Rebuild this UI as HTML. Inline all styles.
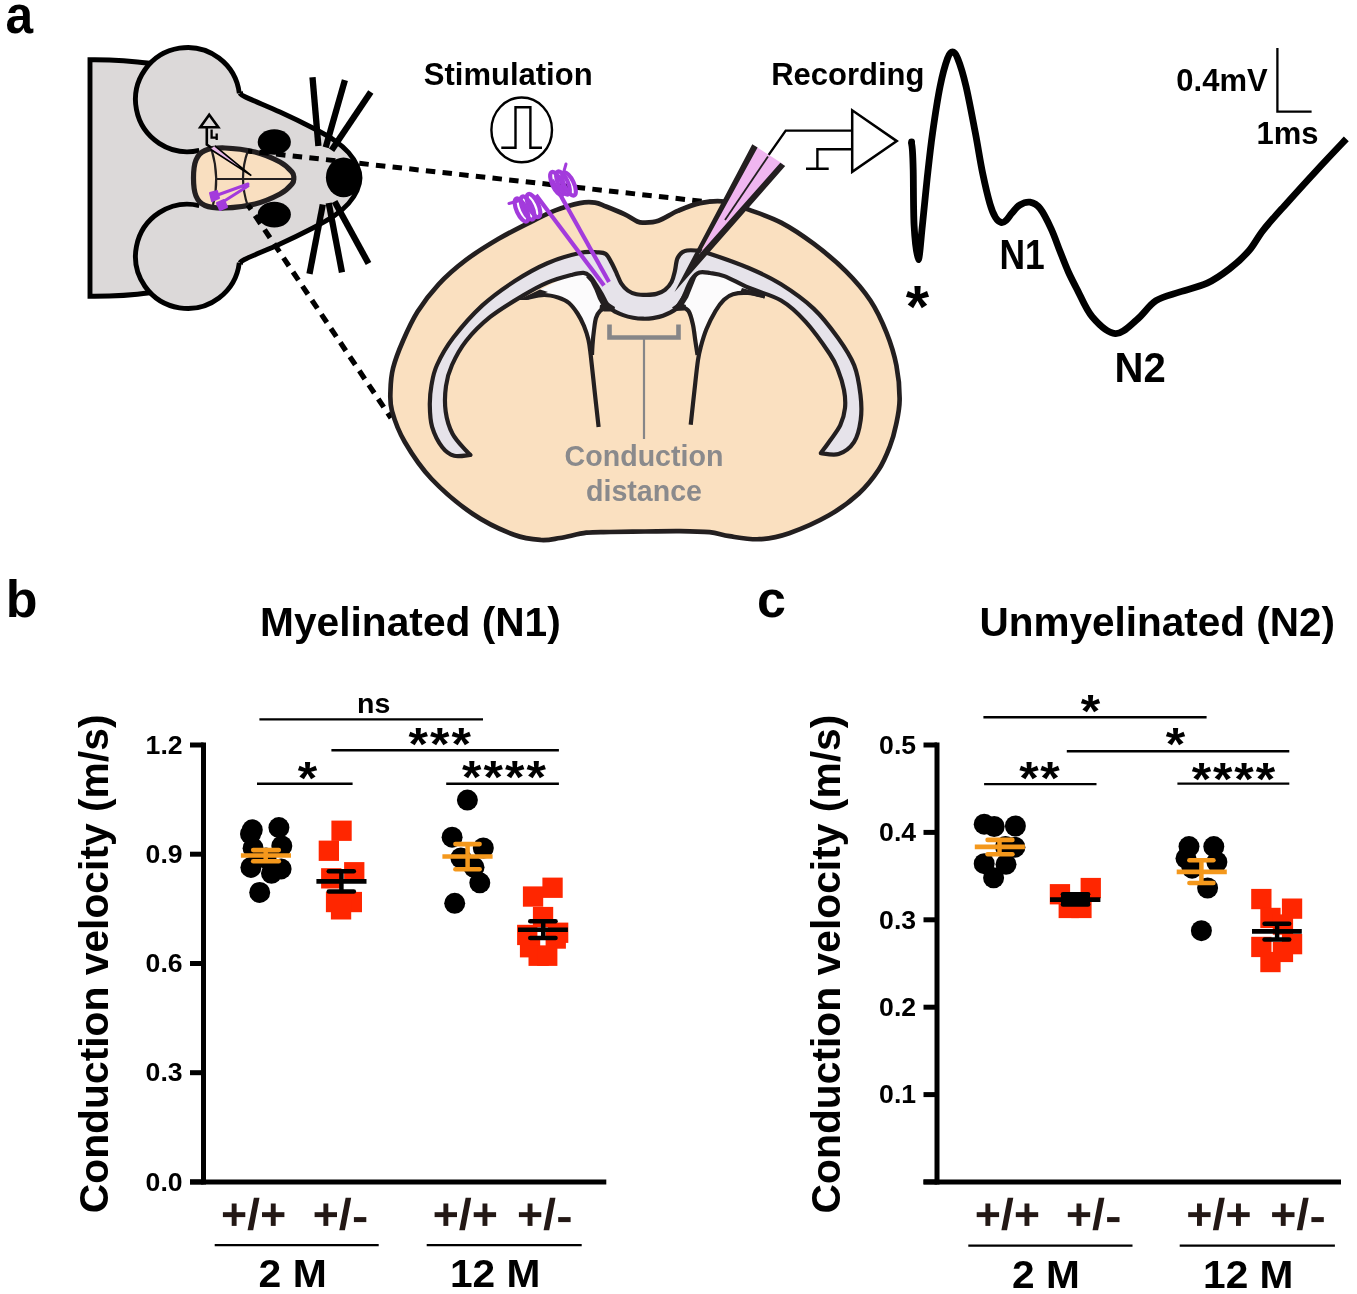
<!DOCTYPE html>
<html><head><meta charset="utf-8"><style>
html,body{margin:0;padding:0;background:#fff;}
svg{display:block;}
svg{will-change:transform;}
</style></head><body>
<svg width="1357" height="1294" viewBox="0 0 1357 1294">
<rect width="1357" height="1294" fill="#fff"/>
<text transform="translate(5.6,33.3) scale(0.955,1.05)" font-size="52" font-family="Liberation Sans, sans-serif" font-weight="bold" fill="#000">a</text>
<text x="5.7" y="616.5" font-size="52.0" fill="#000" text-anchor="start" font-family="Liberation Sans, sans-serif" font-weight="bold" >b</text>
<text x="757.0" y="616.7" font-size="52.0" fill="#000" text-anchor="start" font-family="Liberation Sans, sans-serif" font-weight="bold" >c</text>
<g>
<rect x="90" y="60" width="100" height="236" fill="#dcd9d9"/>
<circle cx="187.6" cy="99.6" r="52.1" fill="#dcd9d9"/>
<circle cx="187.6" cy="256.4" r="52.1" fill="#dcd9d9"/>
<path d="M240.5,92.5 C241.2,93.2 237.9,93.2 244.5,96.5 C251.1,99.8 268.6,106.8 280.0,112.0 C291.4,117.2 303.8,123.3 312.9,128.0 C322.0,132.7 328.7,136.3 334.6,140.4 C340.5,144.5 344.8,148.3 348.5,152.5 C352.2,156.7 355.1,161.2 357.0,165.5 C358.9,169.8 360.0,173.8 360.0,178.0 C360.0,182.2 358.9,186.2 357.0,190.5 C355.1,194.8 352.2,199.3 348.5,203.5 C344.8,207.7 340.5,211.5 334.6,215.6 C328.7,219.7 322.0,223.3 312.9,228.0 C303.8,232.7 291.4,238.8 280.0,244.0 C268.6,249.2 251.1,256.2 244.5,259.5 C237.9,262.8 241.2,262.8 240.5,263.5 L180,263 L180,93 Z" fill="#dcd9d9"/>
<path d="M151,63.5 C130,60.5 110,59.5 90,59.7 L90,296.3 C110,296.5 130,295.5 151,292.5" fill="none" stroke="#000" stroke-width="4.9" stroke-linejoin="miter"/>
<path d="M239.3,93.3 A52.1,52.1 0 1 0 199.3,150.4" fill="none" stroke="#000" stroke-width="4.9"/>
<path d="M239.3,262.7 A52.1,52.1 0 1 1 199.3,205.6" fill="none" stroke="#000" stroke-width="4.9"/>
<path d="M240.5,92.5 C241.2,93.2 237.9,93.2 244.5,96.5 C251.1,99.8 268.6,106.8 280.0,112.0 C291.4,117.2 303.8,123.3 312.9,128.0 C322.0,132.7 328.7,136.3 334.6,140.4 C340.5,144.5 344.8,148.3 348.5,152.5 C352.2,156.7 355.1,161.2 357.0,165.5 C358.9,169.8 360.0,173.8 360.0,178.0 C360.0,182.2 358.9,186.2 357.0,190.5 C355.1,194.8 352.2,199.3 348.5,203.5 C344.8,207.7 340.5,211.5 334.6,215.6 C328.7,219.7 322.0,223.3 312.9,228.0 C303.8,232.7 291.4,238.8 280.0,244.0 C268.6,249.2 251.1,256.2 244.5,259.5 C237.9,262.8 241.2,262.8 240.5,263.5" fill="none" stroke="#000" stroke-width="4.9"/>
<ellipse cx="274.3" cy="142" rx="16.6" ry="12.8" fill="#000"/>
<ellipse cx="274.3" cy="214.6" rx="16.6" ry="12.8" fill="#000"/>
<ellipse cx="343.5" cy="177.4" rx="17.6" ry="19.8" fill="#000"/>
<line x1="312.5" y1="77.2" x2="318.4" y2="145.9" stroke="#000" stroke-width="6.3"/>
<line x1="344.9" y1="80.2" x2="325.7" y2="147.4" stroke="#000" stroke-width="6.3"/>
<line x1="370.8" y1="92.0" x2="331.6" y2="150.3" stroke="#000" stroke-width="6.3"/>
<line x1="322.8" y1="204.5" x2="309.5" y2="273.8" stroke="#000" stroke-width="6.3"/>
<line x1="328.7" y1="203.0" x2="342.0" y2="272.3" stroke="#000" stroke-width="6.3"/>
<line x1="334.6" y1="201.6" x2="368.5" y2="263.5" stroke="#000" stroke-width="6.3"/>
<path d="M193.5,178.0 C193.5,172.0 194.1,164.6 196.0,160.0 C197.9,155.4 200.2,152.5 205.0,150.5 C209.8,148.5 216.7,147.8 225.0,148.0 C233.3,148.2 245.8,149.7 255.0,152.0 C264.2,154.3 273.8,158.7 280.0,162.0 C286.2,165.3 289.7,169.3 292.0,172.0 C294.3,174.7 293.8,176.0 293.8,178.0 C293.8,180.0 294.3,181.3 292.0,184.0 C289.7,186.7 286.2,190.7 280.0,194.0 C273.8,197.3 264.2,201.7 255.0,204.0 C245.8,206.3 233.3,207.8 225.0,208.0 C216.7,208.2 209.8,207.5 205.0,205.5 C200.2,203.5 197.9,200.6 196.0,196.0 C194.1,191.4 193.5,184.0 193.5,178.0 Z" fill="#f9dfc0" stroke="#231f20" stroke-width="5.2"/>
<path d="M216,179 L292,179" stroke="#231f20" stroke-width="2.2"/>
<path d="M211.7,150 Q220,178 213,205" fill="none" stroke="#231f20" stroke-width="2.2"/>
<path d="M248,150.5 Q238,178 248,206.5" fill="none" stroke="#231f20" stroke-width="2.2"/>
<path d="M209.2,114.8 L200.3,127.3 L218.3,127.3 Z" fill="#dcd9d9" stroke="#000" stroke-width="2.6" stroke-linejoin="miter"/>
<path d="M206.8,128 L206.8,144.5 L211,147.5" fill="none" stroke="#000" stroke-width="2.6"/>
<path d="M211.6,129.5 L211.6,137.6 L217.4,137.6 M216.7,133.5 L216.7,140" fill="none" stroke="#000" stroke-width="2.3"/>
<path d="M210.5,149.2 L214.8,145.8 L251.3,175.6 Z" fill="#e8b8e8"/>
<path d="M210.5,149.2 L251.3,175.6 M214.8,145.8 L251.3,175.6" fill="none" stroke="#000" stroke-width="1.7"/>
<path d="M212,197 L248,184" stroke="#a33bdc" stroke-width="3" stroke-linecap="round"/>
<path d="M218,205 L248,186" stroke="#a33bdc" stroke-width="3" stroke-linecap="round"/>
<path d="M210,193 L217,191 L219,198 L212,201 Z" fill="#a33bdc" stroke="#a33bdc" stroke-width="2" stroke-linejoin="round"/>
<path d="M217,203 L224,200 L227,207 L220,210 Z" fill="#a33bdc" stroke="#a33bdc" stroke-width="2" stroke-linejoin="round"/>
</g>
<line x1="248" y1="151" x2="722" y2="203.5" stroke="#000" stroke-width="5" stroke-dasharray="9.5,7.25" stroke-dashoffset="5.3"/>
<line x1="248" y1="205" x2="391" y2="418" stroke="#000" stroke-width="5.2" stroke-dasharray="9.8,7.2" stroke-dashoffset="4.3"/>
<path d="M644.0,222.6 C647.5,222.5 652.8,222.6 658.4,220.7 C664.0,218.8 670.9,213.8 677.8,210.9 C684.7,208.0 692.2,204.7 700.0,203.1 C707.8,201.5 716.2,200.4 724.3,201.5 C732.4,202.6 739.2,206.1 748.7,209.6 C758.2,213.1 770.3,216.9 781.1,222.6 C791.9,228.3 802.8,235.6 813.6,243.7 C824.4,251.8 836.5,261.8 846.0,271.3 C855.5,280.8 863.6,290.2 870.4,300.5 C877.2,310.8 882.3,322.1 886.6,332.9 C890.9,343.7 894.2,354.2 896.4,365.4 C898.6,376.6 899.7,390.1 899.6,400.0 C899.5,409.9 897.6,417.3 896.0,425.0 C894.4,432.7 892.9,438.6 890.0,446.0 C887.1,453.4 884.0,461.6 878.8,469.5 C873.6,477.4 867.2,485.8 858.9,493.4 C850.6,501.0 840.6,508.7 829.0,515.3 C817.4,521.9 800.8,529.2 789.2,533.2 C777.6,537.2 769.4,538.7 759.4,539.2 C749.4,539.7 737.8,537.4 729.5,536.2 C721.2,535.0 717.9,533.0 709.6,532.2 C701.3,531.4 690.6,531.3 679.8,531.2 C669.0,531.1 656.6,531.4 645.0,531.5 C633.4,531.6 619.8,531.8 610.0,532.0 C600.2,532.2 594.7,531.7 586.4,532.7 C578.1,533.7 567.6,536.8 560.0,538.0 C552.4,539.2 548.7,540.5 541.0,540.0 C533.3,539.5 525.4,539.1 514.0,534.8 C502.6,530.5 486.6,523.3 472.9,514.0 C459.2,504.7 443.0,491.0 431.6,479.0 C420.2,467.0 411.4,453.3 404.8,442.0 C398.2,430.7 394.4,419.7 392.0,411.0 C389.6,402.3 390.3,397.2 390.5,390.0 C390.7,382.8 391.0,376.2 393.1,368.0 C395.2,359.8 398.8,350.4 402.9,341.0 C407.0,331.6 411.6,321.2 417.5,311.8 C423.4,302.4 430.5,293.0 438.6,284.3 C446.7,275.6 456.1,267.5 466.1,259.9 C476.1,252.3 487.8,245.2 498.6,238.8 C509.4,232.5 521.5,226.5 531.0,221.8 C540.5,217.1 547.3,213.5 555.4,210.4 C563.5,207.3 573.1,204.4 579.7,203.1 C586.3,201.8 590.6,202.0 595.0,202.6 C599.4,203.2 601.1,204.6 606.0,206.5 C610.9,208.4 619.1,211.7 624.3,214.2 C629.5,216.7 634.0,220.1 637.3,221.5 C640.6,222.9 640.5,222.7 644.0,222.6 Z" fill="#fae0c0" stroke="#231f20" stroke-width="4.7"/>
<path d="M527.0,300.0 C526.3,299.2 534.5,293.3 540.0,290.0 C545.5,286.7 552.8,283.2 560.0,280.0 C567.2,276.8 577.7,271.5 583.0,271.0 C588.3,270.5 589.7,274.5 592.0,277.0 C594.3,279.5 595.2,282.7 597.0,286.0 C598.8,289.3 601.2,293.7 603.0,297.0 C604.8,300.3 608.5,303.7 608.0,306.0 C607.5,308.3 602.0,309.0 600.0,311.0 C598.0,313.0 597.0,314.8 595.9,318.0 C594.8,321.2 594.0,324.7 593.4,330.0 C592.8,335.3 592.9,349.2 592.0,350.0 C591.1,350.8 589.2,339.3 588.0,335.0 C586.8,330.7 586.3,328.1 584.7,324.2 C583.1,320.3 581.2,315.7 578.6,311.8 C576.0,307.9 572.8,303.2 569.3,300.7 C565.8,298.1 561.7,297.4 557.5,296.5 C553.3,295.6 549.1,294.4 544.0,295.0 C538.9,295.6 527.7,300.8 527.0,300.0 Z" fill="#fcfbfc"/>
<path d="M680.0,306.0 C679.3,303.0 684.0,296.3 686.0,292.0 C688.0,287.7 689.8,283.5 692.0,280.0 C694.2,276.5 695.2,272.2 699.0,271.0 C702.8,269.8 709.3,271.7 715.0,273.0 C720.7,274.3 727.2,276.7 733.0,279.0 C738.8,281.3 747.5,284.8 750.0,287.0 C752.5,289.2 750.9,291.0 748.0,292.0 C745.1,293.0 736.8,291.8 732.7,293.0 C728.6,294.2 726.6,296.2 723.5,299.0 C720.4,301.8 717.3,305.1 714.2,310.0 C711.1,314.9 707.4,321.1 704.9,328.1 C702.4,335.1 700.7,350.0 699.5,352.0 C698.3,354.0 698.3,344.8 697.5,340.0 C696.7,335.2 695.9,328.5 694.7,323.5 C693.5,318.5 692.6,312.9 690.1,310.0 C687.6,307.1 680.7,309.0 680.0,306.0 Z" fill="#fcfbfc"/>
<path d="M527.0,298.0 C529.8,297.5 538.8,295.1 544.0,295.0 C549.2,294.9 553.8,296.2 558.0,297.5 C562.2,298.8 565.8,300.3 569.0,303.0 C572.2,305.7 575.0,309.7 577.5,313.5 C580.0,317.3 582.2,321.6 584.0,326.0 C585.8,330.4 587.4,335.2 588.5,340.0 C589.6,344.8 589.7,346.7 590.7,355.0 C591.7,363.3 593.2,378.0 594.5,390.0 C595.8,402.0 597.9,420.8 598.6,427.0" fill="none" stroke="#231f20" stroke-width="4.2"/>
<path d="M607.0,307.5 C605.8,308.1 601.8,309.2 600.0,311.0 C598.2,312.8 597.0,314.8 596.0,318.0 C595.0,321.2 594.6,325.5 594.0,330.0 C593.4,334.5 592.8,340.8 592.5,345.0 C592.2,349.2 592.1,353.3 592.0,355.0" fill="none" stroke="#231f20" stroke-width="4.2"/>
<path d="M765.0,296.5 C762.2,295.9 753.3,293.4 748.0,293.0 C742.7,292.6 737.0,293.1 733.0,294.2 C729.0,295.3 726.9,297.0 724.0,299.8 C721.1,302.6 718.4,306.1 715.5,311.0 C712.6,315.9 708.9,323.2 706.5,329.0 C704.1,334.8 702.4,340.8 701.0,346.0 C699.6,351.2 699.1,352.7 698.0,360.0 C696.9,367.3 695.7,379.2 694.5,390.0 C693.3,400.8 691.3,419.0 690.7,424.8" fill="none" stroke="#231f20" stroke-width="4.2"/>
<path d="M680.5,306.0 C681.8,306.8 686.5,308.0 688.5,311.0 C690.5,314.0 691.6,318.8 692.8,324.0 C694.0,329.2 694.7,336.8 695.5,342.0 C696.3,347.2 697.2,352.8 697.5,355.0" fill="none" stroke="#231f20" stroke-width="4.2"/>
<path d="M470.4,454.9 C467.7,455.0 458.9,457.1 454.2,455.8 C449.5,454.5 446.0,452.1 442.3,447.3 C438.6,442.5 434.2,433.9 432.1,426.9 C430.0,419.8 429.9,412.0 429.8,405.0 C429.7,398.0 430.3,391.7 431.5,385.0 C432.7,378.3 433.4,372.9 437.0,365.0 C440.6,357.1 445.6,347.7 453.2,337.8 C460.8,327.9 472.1,314.9 482.4,305.4 C492.7,295.9 504.0,288.0 514.8,281.0 C525.6,274.0 536.5,267.9 547.3,263.2 C558.1,258.5 571.4,254.8 579.7,253.0 C588.0,251.2 592.8,252.1 597.1,252.3 C601.5,252.5 603.4,252.3 605.8,254.0 C608.2,255.7 609.5,259.2 611.3,262.4 C613.1,265.6 615.0,269.8 616.6,273.3 C618.2,276.8 619.3,280.4 621.2,283.3 C623.1,286.2 625.4,288.8 627.9,290.6 C630.4,292.4 633.4,293.5 636.5,294.2 C639.6,294.9 643.1,294.9 646.4,294.9 C649.7,294.8 653.3,294.7 656.4,293.9 C659.5,293.1 662.5,291.9 665.0,289.9 C667.5,287.9 670.0,285.0 671.6,281.9 C673.2,278.8 673.9,275.0 674.9,271.0 C675.9,267.0 676.0,261.3 677.6,258.0 C679.2,254.7 681.4,252.3 684.5,251.1 C687.6,249.8 692.1,250.2 696.0,250.5 C699.9,250.8 699.3,250.3 708.1,253.2 C716.9,256.1 736.5,262.8 748.7,268.0 C760.9,273.2 770.3,277.5 781.1,284.3 C791.9,291.1 804.1,299.7 813.6,308.6 C823.1,317.5 831.1,328.3 837.9,337.8 C844.7,347.3 850.4,355.9 854.2,365.4 C858.0,374.9 859.4,385.9 860.5,395.0 C861.6,404.1 861.8,412.1 860.7,420.0 C859.6,427.9 857.7,436.5 854.0,442.2 C850.3,447.9 844.1,452.3 838.6,454.1 C833.1,455.9 823.8,453.4 820.8,453.2 L820.8,453.2 C822.3,451.1 826.9,445.2 830.1,440.5 C833.4,435.8 837.8,430.6 840.3,425.2 C842.8,419.8 844.4,413.9 845.0,408.0 C845.6,402.1 845.2,396.3 844.0,390.0 C842.8,383.7 840.4,376.0 838.0,370.0 C835.6,364.0 835.2,362.1 829.8,354.0 C824.4,345.9 813.6,330.5 805.5,321.6 C797.4,312.7 790.6,306.1 781.1,300.5 C771.6,294.9 758.2,291.9 748.7,287.8 C739.2,283.7 730.8,278.6 724.3,276.1 C717.8,273.6 714.1,273.6 710.0,273.0 C705.9,272.4 702.4,271.5 699.4,272.5 C696.4,273.5 694.0,276.1 691.9,279.0 C689.8,281.9 688.2,286.2 686.5,290.0 C684.8,293.8 683.2,298.3 681.5,301.5 C679.8,304.7 679.1,306.6 676.0,309.0 C672.9,311.4 666.8,314.3 663.0,315.8 C659.2,317.3 656.3,317.6 653.0,318.1 C649.7,318.6 646.4,318.8 643.1,318.7 C639.8,318.6 636.5,318.3 633.2,317.7 C629.9,317.1 626.5,316.3 623.2,315.1 C619.9,313.9 616.0,312.4 613.3,310.5 C610.6,308.6 608.9,306.7 607.0,304.0 C605.1,301.3 603.9,297.7 602.0,294.5 C600.1,291.3 597.9,287.7 595.9,284.6 C593.9,281.5 591.8,277.9 589.7,276.0 C587.6,274.1 586.4,273.1 583.5,272.9 C580.6,272.7 578.4,273.1 572.4,274.7 C566.4,276.3 555.5,279.1 547.3,282.6 C539.0,286.1 532.4,289.9 522.9,295.6 C513.4,301.3 500.0,309.1 490.5,316.7 C481.0,324.3 472.5,332.9 466.1,341.0 C459.7,349.1 455.4,357.5 452.0,365.0 C448.6,372.5 447.1,378.2 446.0,386.0 C444.9,393.8 444.6,403.7 445.7,411.6 C446.8,419.6 449.1,427.2 452.5,433.7 C455.9,440.2 463.1,447.2 466.1,450.7 C469.1,454.2 469.7,454.2 470.4,454.9 Z" fill="#e6e3ea" stroke="#231f20" stroke-width="4.2" stroke-linejoin="round"/>
<path d="M589,275 L596,284 L602,294 L608.5,304 L606,309.5 L603,308 L598,299 L594.5,290 L590.5,282 L586,277 Z" fill="#231f20"/>
<path d="M700,271 L692,279 L684.5,292 L676,305 L680,308 L683.5,305 L688.2,297.5 L692,288 L696,278 Z" fill="#231f20"/>
<path d="M518,300 L540,289.5 L548,292 L527,300 Z" fill="#231f20"/>
<path d="M600,305 L608,302.5 L615,307 L614,311.5 L604,311.5 L599.5,309 Z" fill="#231f20"/>
<path d="M672,307.5 L679,302.5 L686,305 L684.5,310.5 L676,311 Z" fill="#231f20"/>
<path d="M742,288 L766,294.5 L764,298 L740,292.5 Z" fill="#231f20"/>
<path d="M609.5,324.5 L609.5,337.5 L678.5,337.5 L678.5,324.5" fill="none" stroke="#868688" stroke-width="4.6"/>
<line x1="644" y1="337" x2="644" y2="439" stroke="#868688" stroke-width="2.2"/>
<text x="644.0" y="466.0" font-size="28.6" fill="#8a8a8c" text-anchor="middle" font-family="Liberation Sans, sans-serif" font-weight="bold" >Conduction</text>
<text x="644.0" y="500.8" font-size="28.6" fill="#8a8a8c" text-anchor="middle" font-family="Liberation Sans, sans-serif" font-weight="bold" >distance</text>
<line x1="536" y1="195" x2="604" y2="285.5" stroke="#a33bdc" stroke-width="4.2"/>
<line x1="552" y1="180" x2="609" y2="282" stroke="#a33bdc" stroke-width="4.2"/>
<ellipse cx="521.5" cy="210.0" rx="4.8" ry="12.5" transform="rotate(-25 521.5 210.0)" fill="none" stroke="#a33bdc" stroke-width="4.2"/>
<ellipse cx="527.5" cy="208.0" rx="4.8" ry="12.5" transform="rotate(-25 527.5 208.0)" fill="none" stroke="#a33bdc" stroke-width="4.2"/>
<ellipse cx="533.5" cy="205.5" rx="4.8" ry="12.5" transform="rotate(-25 533.5 205.5)" fill="none" stroke="#a33bdc" stroke-width="4.2"/>
<path d="M509,203.5 L518,201" stroke="#a33bdc" stroke-width="3" stroke-linecap="round"/>
<ellipse cx="557.0" cy="183.5" rx="4.8" ry="12.5" transform="rotate(-25 557.0 183.5)" fill="none" stroke="#a33bdc" stroke-width="4.2"/>
<ellipse cx="563.0" cy="183.0" rx="4.8" ry="12.5" transform="rotate(-25 563.0 183.0)" fill="none" stroke="#a33bdc" stroke-width="4.2"/>
<ellipse cx="569.0" cy="184.0" rx="4.8" ry="12.5" transform="rotate(-25 569.0 184.0)" fill="none" stroke="#a33bdc" stroke-width="4.2"/>
<path d="M566,164 L564,171" stroke="#a33bdc" stroke-width="3" stroke-linecap="round"/>
<path d="M755,146 L783,164 L699,256 Z" fill="#f0b6f0"/>
<path d="M752.3,144.3 L674.5,292 L785.2,166 L780.3,162.8 L699,254.5 L757.6,147.6 Z" fill="#231f20"/>
<line x1="768" y1="156.5" x2="725" y2="220" stroke="#231f20" stroke-width="1.8"/>
<ellipse cx="521.7" cy="129.9" rx="30.3" ry="32.4" fill="none" stroke="#000" stroke-width="2.4"/>
<path d="M501.3,147.7 L515.5,147.7 L515.5,107.3 L530.4,107.3 L530.4,147.7 L542,147.7" fill="none" stroke="#000" stroke-width="2.4"/>
<path d="M852.2,110.3 L852.2,171.9 L896.8,141.1 Z" fill="white" stroke="#000" stroke-width="2.5" stroke-linejoin="miter"/>
<path d="M768.7,154.9 L785.7,130.6 L852.2,130.6" fill="none" stroke="#000" stroke-width="2.4"/>
<path d="M852.2,149.2 L817.4,149.2 L817.4,168.7 M806,168.7 L828.7,168.7" fill="none" stroke="#000" stroke-width="2.4"/>
<text x="423.8" y="84.7" font-size="31.0" fill="#000" text-anchor="start" font-family="Liberation Sans, sans-serif" font-weight="bold" >Stimulation</text>
<text x="771.2" y="85.0" font-size="31.0" fill="#000" text-anchor="start" font-family="Liberation Sans, sans-serif" font-weight="bold" >Recording</text>
<path d="M911.3,141.8 C911.5,143.2 912.1,145.3 912.4,150.0 C912.7,154.7 912.9,157.2 913.2,169.8 C913.5,182.4 913.3,210.4 914.1,225.4 C914.9,240.4 916.8,259.7 918.2,259.7 C919.6,259.7 920.9,238.8 922.4,225.4 C923.9,212.0 925.4,194.4 927.1,179.0 C928.8,163.6 930.4,148.1 932.6,132.7 C934.8,117.2 937.6,98.7 940.1,86.3 C942.6,73.9 945.4,64.2 947.5,58.5 C949.6,52.8 950.8,52.0 952.5,52.0 C954.2,52.0 955.5,52.8 957.7,58.5 C960.0,64.2 963.1,73.9 966.0,86.3 C968.9,98.7 972.5,118.2 975.3,132.7 C978.1,147.2 980.2,161.6 982.7,173.5 C985.2,185.4 987.9,196.7 990.0,204.0 C992.1,211.3 993.6,214.4 995.5,217.5 C997.4,220.6 999.5,222.0 1001.2,222.5 C1003.0,223.0 1004.2,222.1 1006.0,220.5 C1007.8,218.9 1009.7,215.6 1012.0,213.0 C1014.3,210.4 1016.8,206.8 1019.8,205.0 C1022.8,203.2 1026.6,201.6 1030.0,202.2 C1033.4,202.8 1036.7,204.2 1040.2,208.7 C1043.8,213.2 1048.0,222.0 1051.3,229.1 C1054.6,236.2 1057.2,244.2 1060.0,251.3 C1062.8,258.4 1065.6,265.8 1068.4,272.0 C1071.2,278.2 1072.8,281.3 1076.8,288.8 C1080.8,296.3 1085.8,309.3 1092.2,316.8 C1098.6,324.3 1107.8,333.1 1115.3,333.6 C1122.8,334.1 1130.2,325.1 1137.0,319.6 C1143.8,314.1 1148.8,305.3 1156.0,300.7 C1163.2,296.1 1171.5,294.8 1180.0,291.9 C1188.5,289.0 1198.9,287.0 1207.2,283.1 C1215.5,279.2 1222.7,274.0 1229.6,268.7 C1236.5,263.4 1243.1,257.5 1248.7,251.1 C1254.3,244.7 1257.2,237.8 1263.1,230.3 C1269.0,222.9 1275.1,216.2 1283.9,206.4 C1292.7,196.6 1305.5,182.4 1315.9,171.2 C1326.3,159.9 1341.2,144.3 1346.3,138.9" fill="none" stroke="#000" stroke-width="6.8" stroke-linejoin="round"/>
<circle cx="911.6" cy="141.8" r="3.4" fill="#000"/>
<path d="M1277.4,48 L1277.4,111.7 L1311.6,111.7" fill="none" stroke="#000" stroke-width="2.3"/>
<text x="1176.3" y="91.1" font-size="31.0" fill="#000" text-anchor="start" font-family="Liberation Sans, sans-serif" font-weight="bold" >0.4mV</text>
<text x="1256.4" y="144.0" font-size="31.0" fill="#000" text-anchor="start" font-family="Liberation Sans, sans-serif" font-weight="bold" >1ms</text>
<text x="999.5" y="268.5" font-size="42.0" fill="#000" text-anchor="start" font-family="Liberation Sans, sans-serif" font-weight="bold" textLength="45.3" lengthAdjust="spacingAndGlyphs">N1</text>
<text x="1114.5" y="381.9" font-size="42.5" fill="#000" text-anchor="start" font-family="Liberation Sans, sans-serif" font-weight="bold" textLength="51.2" lengthAdjust="spacingAndGlyphs">N2</text>
<text x="905.8" y="327.4" font-size="60.0" fill="#000" text-anchor="start" font-family="Liberation Sans, sans-serif" font-weight="bold" >*</text>
<line x1="203.5" y1="742.5" x2="203.5" y2="1184.4" stroke="#000" stroke-width="5"/>
<line x1="190.0" y1="1181.9" x2="606.3" y2="1181.9" stroke="#000" stroke-width="5"/>
<line x1="190.0" y1="745.0" x2="203.5" y2="745.0" stroke="#000" stroke-width="5"/>
<text x="182.6" y="753.7" font-size="26.6" fill="#000" text-anchor="end" font-family="Liberation Sans, sans-serif" font-weight="bold" >1.2</text>
<line x1="190.0" y1="854.2" x2="203.5" y2="854.2" stroke="#000" stroke-width="5"/>
<text x="182.6" y="862.9" font-size="26.6" fill="#000" text-anchor="end" font-family="Liberation Sans, sans-serif" font-weight="bold" >0.9</text>
<line x1="190.0" y1="963.5" x2="203.5" y2="963.5" stroke="#000" stroke-width="5"/>
<text x="182.6" y="972.2" font-size="26.6" fill="#000" text-anchor="end" font-family="Liberation Sans, sans-serif" font-weight="bold" >0.6</text>
<line x1="190.0" y1="1072.7" x2="203.5" y2="1072.7" stroke="#000" stroke-width="5"/>
<text x="182.6" y="1081.4" font-size="26.6" fill="#000" text-anchor="end" font-family="Liberation Sans, sans-serif" font-weight="bold" >0.3</text>
<line x1="190.0" y1="1181.9" x2="203.5" y2="1181.9" stroke="#000" stroke-width="5"/>
<text x="182.6" y="1190.6" font-size="26.6" fill="#000" text-anchor="end" font-family="Liberation Sans, sans-serif" font-weight="bold" >0.0</text>
<text x="260.1" y="636.2" font-size="40.7" fill="#000" text-anchor="start" font-family="Liberation Sans, sans-serif" font-weight="bold" >Myelinated (N1)</text>
<text transform="translate(108.4,1213.2) rotate(-90)" font-size="40.8" font-family="Liberation Sans, sans-serif" font-weight="bold" fill="#000">Conduction velocity (m/s)</text>
<circle cx="250.5" cy="834.0" r="10.5" fill="#000"/>
<circle cx="252.3" cy="829.8" r="10.5" fill="#000"/>
<circle cx="278.9" cy="827.6" r="10.5" fill="#000"/>
<circle cx="253.1" cy="848.2" r="10.5" fill="#000"/>
<circle cx="281.8" cy="846.0" r="10.5" fill="#000"/>
<circle cx="250.9" cy="867.4" r="10.5" fill="#000"/>
<circle cx="281.1" cy="868.9" r="10.5" fill="#000"/>
<circle cx="271.5" cy="873.3" r="10.5" fill="#000"/>
<circle cx="259.7" cy="892.4" r="10.5" fill="#000"/>
<circle cx="266.0" cy="858.0" r="10.5" fill="#000"/>
<line x1="240.9" y1="855.5" x2="291.0" y2="855.5" stroke="#f4981c" stroke-width="4.6"/>
<line x1="265.7" y1="850.1" x2="265.7" y2="861.3" stroke="#f4981c" stroke-width="4.5"/>
<line x1="253.2" y1="850.1" x2="278.8" y2="850.1" stroke="#f4981c" stroke-width="4.6" stroke-linecap="round"/>
<line x1="253.2" y1="861.3" x2="278.8" y2="861.3" stroke="#f4981c" stroke-width="4.6" stroke-linecap="round"/>
<rect x="331.4" y="820.6" width="20.3" height="20.3" fill="#ff2600"/>
<rect x="318.7" y="840.6" width="20.3" height="20.3" fill="#ff2600"/>
<rect x="344.1" y="862.1" width="20.3" height="20.3" fill="#ff2600"/>
<rect x="321.1" y="868.2" width="20.3" height="20.3" fill="#ff2600"/>
<rect x="325.9" y="891.9" width="20.3" height="20.3" fill="#ff2600"/>
<rect x="341.7" y="891.9" width="20.3" height="20.3" fill="#ff2600"/>
<rect x="330.9" y="899.2" width="20.3" height="20.3" fill="#ff2600"/>
<line x1="316.4" y1="881.4" x2="366.5" y2="881.4" stroke="#000" stroke-width="4.6"/>
<line x1="341.4" y1="871.3" x2="341.4" y2="891.5" stroke="#000" stroke-width="4.5"/>
<line x1="328.8" y1="871.3" x2="353.8" y2="871.3" stroke="#000" stroke-width="4.6" stroke-linecap="round"/>
<line x1="328.8" y1="891.5" x2="353.8" y2="891.5" stroke="#000" stroke-width="4.6" stroke-linecap="round"/>
<circle cx="467.4" cy="800.1" r="10.5" fill="#000"/>
<circle cx="452.1" cy="837.2" r="10.5" fill="#000"/>
<circle cx="483.3" cy="848.0" r="10.5" fill="#000"/>
<circle cx="460.9" cy="858.0" r="10.5" fill="#000"/>
<circle cx="474.0" cy="867.3" r="10.5" fill="#000"/>
<circle cx="479.8" cy="882.8" r="10.5" fill="#000"/>
<circle cx="454.7" cy="903.3" r="10.5" fill="#000"/>
<line x1="442.4" y1="856.5" x2="492.6" y2="856.5" stroke="#f4981c" stroke-width="4.6"/>
<line x1="467.6" y1="844.1" x2="467.6" y2="869.3" stroke="#f4981c" stroke-width="4.5"/>
<line x1="455.4" y1="844.1" x2="479.6" y2="844.1" stroke="#f4981c" stroke-width="4.6" stroke-linecap="round"/>
<line x1="455.4" y1="869.3" x2="479.6" y2="869.3" stroke="#f4981c" stroke-width="4.6" stroke-linecap="round"/>
<rect x="542.4" y="877.6" width="20.3" height="20.3" fill="#ff2600"/>
<rect x="522.9" y="886.4" width="20.3" height="20.3" fill="#ff2600"/>
<rect x="532.9" y="906.9" width="20.3" height="20.3" fill="#ff2600"/>
<rect x="548.0" y="922.6" width="20.3" height="20.3" fill="#ff2600"/>
<rect x="517.1" y="924.8" width="20.3" height="20.3" fill="#ff2600"/>
<rect x="519.9" y="937.1" width="20.3" height="20.3" fill="#ff2600"/>
<rect x="545.6" y="928.4" width="20.3" height="20.3" fill="#ff2600"/>
<rect x="528.5" y="945.6" width="20.3" height="20.3" fill="#ff2600"/>
<rect x="537.1" y="945.6" width="20.3" height="20.3" fill="#ff2600"/>
<line x1="518.0" y1="929.8" x2="567.9" y2="929.8" stroke="#000" stroke-width="4.6"/>
<line x1="543.2" y1="921.2" x2="543.2" y2="938.0" stroke="#000" stroke-width="4.5"/>
<line x1="530.3" y1="921.2" x2="555.5" y2="921.2" stroke="#000" stroke-width="4.6" stroke-linecap="round"/>
<line x1="530.3" y1="938.0" x2="555.5" y2="938.0" stroke="#000" stroke-width="4.6" stroke-linecap="round"/>
<line x1="259.4" y1="719.4" x2="483.0" y2="719.4" stroke="#000" stroke-width="2.4"/>
<text x="357.0" y="713.0" font-size="28.5" fill="#000" text-anchor="start" font-family="Liberation Sans, sans-serif" font-weight="bold" >ns</text>
<line x1="331.4" y1="750.3" x2="558.9" y2="750.3" stroke="#000" stroke-width="2.4"/>
<text transform="translate(408.45,759.76) scale(1.030,0.950)" font-size="48.5" font-family="Liberation Sans, sans-serif" font-weight="bold" fill="#000">*</text>
<text transform="translate(430.00,759.76) scale(1.030,0.950)" font-size="48.5" font-family="Liberation Sans, sans-serif" font-weight="bold" fill="#000">*</text>
<text transform="translate(451.55,759.76) scale(1.030,0.950)" font-size="48.5" font-family="Liberation Sans, sans-serif" font-weight="bold" fill="#000">*</text>
<line x1="257.0" y1="783.8" x2="352.6" y2="783.8" stroke="#000" stroke-width="2.4"/>
<text transform="translate(297.75,794.26) scale(1.030,0.950)" font-size="48.5" font-family="Liberation Sans, sans-serif" font-weight="bold" fill="#000">*</text>
<line x1="446.2" y1="783.8" x2="558.9" y2="783.8" stroke="#000" stroke-width="2.4"/>
<text transform="translate(461.95,793.46) scale(1.030,0.950)" font-size="48.5" font-family="Liberation Sans, sans-serif" font-weight="bold" fill="#000">*</text>
<text transform="translate(483.45,793.46) scale(1.030,0.950)" font-size="48.5" font-family="Liberation Sans, sans-serif" font-weight="bold" fill="#000">*</text>
<text transform="translate(504.95,793.46) scale(1.030,0.950)" font-size="48.5" font-family="Liberation Sans, sans-serif" font-weight="bold" fill="#000">*</text>
<text transform="translate(526.45,793.46) scale(1.030,0.950)" font-size="48.5" font-family="Liberation Sans, sans-serif" font-weight="bold" fill="#000">*</text>
<rect x="222.9" y="1212.2" width="22.4" height="4.9" fill="#231815"/>
<rect x="231.7" y="1203.5" width="4.9" height="22.4" fill="#231815"/>
<path d="M247.6,1230.2 L253.2,1230.2 L259.5,1197.7 L253.9,1197.7 Z" fill="#231815"/>
<rect x="262.0" y="1212.2" width="22.4" height="4.9" fill="#231815"/>
<rect x="270.8" y="1203.5" width="4.9" height="22.4" fill="#231815"/>
<rect x="314.6" y="1212.2" width="22.4" height="4.9" fill="#231815"/>
<rect x="323.4" y="1203.5" width="4.9" height="22.4" fill="#231815"/>
<path d="M339.3,1230.2 L344.9,1230.2 L351.2,1197.7 L345.6,1197.7 Z" fill="#231815"/>
<rect x="353.9" y="1217.1" width="12.4" height="5" fill="#231815"/>
<rect x="434.6" y="1212.2" width="22.4" height="4.9" fill="#231815"/>
<rect x="443.4" y="1203.5" width="4.9" height="22.4" fill="#231815"/>
<path d="M459.3,1230.2 L464.9,1230.2 L471.2,1197.7 L465.6,1197.7 Z" fill="#231815"/>
<rect x="473.7" y="1212.2" width="22.4" height="4.9" fill="#231815"/>
<rect x="482.5" y="1203.5" width="4.9" height="22.4" fill="#231815"/>
<rect x="518.9" y="1212.2" width="22.4" height="4.9" fill="#231815"/>
<rect x="527.6" y="1203.5" width="4.9" height="22.4" fill="#231815"/>
<path d="M543.6,1230.2 L549.2,1230.2 L555.5,1197.7 L549.9,1197.7 Z" fill="#231815"/>
<rect x="558.2" y="1217.1" width="12.4" height="5" fill="#231815"/>
<line x1="214.7" y1="1245.1" x2="378.7" y2="1245.1" stroke="#000" stroke-width="2.2"/>
<line x1="426.7" y1="1245.1" x2="581.7" y2="1245.1" stroke="#000" stroke-width="2.2"/>
<text x="258.6" y="1287.0" font-size="39.5" fill="#000" text-anchor="start" font-family="Liberation Sans, sans-serif" font-weight="bold" textLength="68.2" lengthAdjust="spacingAndGlyphs">2 M</text>
<text x="449.9" y="1287.0" font-size="39.5" fill="#000" text-anchor="start" font-family="Liberation Sans, sans-serif" font-weight="bold" textLength="90.4" lengthAdjust="spacingAndGlyphs">12 M</text>
<line x1="937.0" y1="742.5" x2="937.0" y2="1184.4" stroke="#000" stroke-width="5"/>
<line x1="923.5" y1="1181.9" x2="1341.0" y2="1181.9" stroke="#000" stroke-width="5"/>
<line x1="923.5" y1="745.0" x2="937.0" y2="745.0" stroke="#000" stroke-width="5"/>
<text x="916.1" y="753.7" font-size="26.6" fill="#000" text-anchor="end" font-family="Liberation Sans, sans-serif" font-weight="bold" >0.5</text>
<line x1="923.5" y1="832.4" x2="937.0" y2="832.4" stroke="#000" stroke-width="5"/>
<text x="916.1" y="841.1" font-size="26.6" fill="#000" text-anchor="end" font-family="Liberation Sans, sans-serif" font-weight="bold" >0.4</text>
<line x1="923.5" y1="919.8" x2="937.0" y2="919.8" stroke="#000" stroke-width="5"/>
<text x="916.1" y="928.5" font-size="26.6" fill="#000" text-anchor="end" font-family="Liberation Sans, sans-serif" font-weight="bold" >0.3</text>
<line x1="923.5" y1="1007.2" x2="937.0" y2="1007.2" stroke="#000" stroke-width="5"/>
<text x="916.1" y="1015.9" font-size="26.6" fill="#000" text-anchor="end" font-family="Liberation Sans, sans-serif" font-weight="bold" >0.2</text>
<line x1="923.5" y1="1094.6" x2="937.0" y2="1094.6" stroke="#000" stroke-width="5"/>
<text x="916.1" y="1103.3" font-size="26.6" fill="#000" text-anchor="end" font-family="Liberation Sans, sans-serif" font-weight="bold" >0.1</text>
<line x1="923.5" y1="1181.9" x2="937.0" y2="1181.9" stroke="#000" stroke-width="5"/>
<text x="979.5" y="636.0" font-size="40.5" fill="#000" text-anchor="start" font-family="Liberation Sans, sans-serif" font-weight="bold" >Unmyelinated (N2)</text>
<text transform="translate(840.4,1213.4) rotate(-90)" font-size="40.8" font-family="Liberation Sans, sans-serif" font-weight="bold" fill="#000">Conduction velocity (m/s)</text>
<circle cx="984.2" cy="824.2" r="10.5" fill="#000"/>
<circle cx="994.2" cy="826.5" r="10.5" fill="#000"/>
<circle cx="1015.4" cy="826.0" r="10.5" fill="#000"/>
<circle cx="1014.9" cy="847.2" r="10.5" fill="#000"/>
<circle cx="1005.5" cy="846.5" r="10.5" fill="#000"/>
<circle cx="984.2" cy="863.7" r="10.5" fill="#000"/>
<circle cx="1006.0" cy="864.3" r="10.5" fill="#000"/>
<circle cx="993.6" cy="877.8" r="10.5" fill="#000"/>
<line x1="974.8" y1="846.9" x2="1024.9" y2="846.9" stroke="#f4981c" stroke-width="4.6"/>
<line x1="999.5" y1="839.9" x2="999.5" y2="854.2" stroke="#f4981c" stroke-width="4.5"/>
<line x1="987.6" y1="839.9" x2="1012.4" y2="839.9" stroke="#f4981c" stroke-width="4.6" stroke-linecap="round"/>
<line x1="987.6" y1="854.2" x2="1012.4" y2="854.2" stroke="#f4981c" stroke-width="4.6" stroke-linecap="round"/>
<rect x="1049.8" y="884.1" width="20.3" height="20.3" fill="#ff2600"/>
<rect x="1080.6" y="877.9" width="20.3" height="20.3" fill="#ff2600"/>
<rect x="1058.6" y="897.8" width="20.3" height="20.3" fill="#ff2600"/>
<rect x="1071.3" y="897.8" width="20.3" height="20.3" fill="#ff2600"/>
<line x1="1050.0" y1="899.6" x2="1100.4" y2="899.6" stroke="#000" stroke-width="4.6"/>
<line x1="1075.5" y1="894.3" x2="1075.5" y2="904.4" stroke="#000" stroke-width="4.5"/>
<line x1="1063.0" y1="894.3" x2="1088.1" y2="894.3" stroke="#000" stroke-width="4.6" stroke-linecap="round"/>
<line x1="1063.0" y1="904.4" x2="1088.1" y2="904.4" stroke="#000" stroke-width="4.6" stroke-linecap="round"/>
<rect x="1061" y="894" width="29" height="11" fill="#000"/>
<circle cx="1189.0" cy="846.6" r="10.5" fill="#000"/>
<circle cx="1213.8" cy="846.6" r="10.5" fill="#000"/>
<circle cx="1186.0" cy="858.3" r="10.5" fill="#000"/>
<circle cx="1216.9" cy="862.0" r="10.5" fill="#000"/>
<circle cx="1192.1" cy="868.2" r="10.5" fill="#000"/>
<circle cx="1207.6" cy="888.0" r="10.5" fill="#000"/>
<circle cx="1201.4" cy="930.7" r="10.5" fill="#000"/>
<line x1="1176.7" y1="871.9" x2="1226.8" y2="871.9" stroke="#f4981c" stroke-width="4.6"/>
<line x1="1201.4" y1="860.2" x2="1201.4" y2="883.0" stroke="#f4981c" stroke-width="4.5"/>
<line x1="1189.4" y1="860.2" x2="1213.4" y2="860.2" stroke="#f4981c" stroke-width="4.6" stroke-linecap="round"/>
<line x1="1189.4" y1="883.0" x2="1213.4" y2="883.0" stroke="#f4981c" stroke-width="4.6" stroke-linecap="round"/>
<rect x="1251.2" y="888.9" width="20.3" height="20.3" fill="#ff2600"/>
<rect x="1281.9" y="898.5" width="20.3" height="20.3" fill="#ff2600"/>
<rect x="1260.3" y="907.8" width="20.3" height="20.3" fill="#ff2600"/>
<rect x="1272.8" y="914.4" width="20.3" height="20.3" fill="#ff2600"/>
<rect x="1251.2" y="936.8" width="20.3" height="20.3" fill="#ff2600"/>
<rect x="1281.9" y="934.0" width="20.3" height="20.3" fill="#ff2600"/>
<rect x="1272.8" y="941.8" width="20.3" height="20.3" fill="#ff2600"/>
<rect x="1260.3" y="951.9" width="20.3" height="20.3" fill="#ff2600"/>
<line x1="1252.0" y1="931.4" x2="1301.8" y2="931.4" stroke="#000" stroke-width="4.6"/>
<line x1="1277.1" y1="923.7" x2="1277.1" y2="939.5" stroke="#000" stroke-width="4.5"/>
<line x1="1264.6" y1="923.7" x2="1289.2" y2="923.7" stroke="#000" stroke-width="4.6" stroke-linecap="round"/>
<line x1="1264.6" y1="939.5" x2="1289.2" y2="939.5" stroke="#000" stroke-width="4.6" stroke-linecap="round"/>
<line x1="983.4" y1="717.2" x2="1206.6" y2="717.2" stroke="#000" stroke-width="2.4"/>
<text transform="translate(1080.85,726.76) scale(1.030,0.950)" font-size="48.5" font-family="Liberation Sans, sans-serif" font-weight="bold" fill="#000">*</text>
<line x1="1066.8" y1="751.3" x2="1289.3" y2="751.3" stroke="#000" stroke-width="2.4"/>
<text transform="translate(1165.65,759.86) scale(1.030,0.950)" font-size="48.5" font-family="Liberation Sans, sans-serif" font-weight="bold" fill="#000">*</text>
<line x1="984.1" y1="784.1" x2="1096.5" y2="784.1" stroke="#000" stroke-width="2.4"/>
<text transform="translate(1019.15,794.06) scale(1.030,0.950)" font-size="48.5" font-family="Liberation Sans, sans-serif" font-weight="bold" fill="#000">*</text>
<text transform="translate(1040.35,794.06) scale(1.030,0.950)" font-size="48.5" font-family="Liberation Sans, sans-serif" font-weight="bold" fill="#000">*</text>
<line x1="1177.4" y1="783.6" x2="1289.3" y2="783.6" stroke="#000" stroke-width="2.4"/>
<text transform="translate(1191.65,794.56) scale(1.030,0.950)" font-size="48.5" font-family="Liberation Sans, sans-serif" font-weight="bold" fill="#000">*</text>
<text transform="translate(1212.99,794.56) scale(1.030,0.950)" font-size="48.5" font-family="Liberation Sans, sans-serif" font-weight="bold" fill="#000">*</text>
<text transform="translate(1234.33,794.56) scale(1.030,0.950)" font-size="48.5" font-family="Liberation Sans, sans-serif" font-weight="bold" fill="#000">*</text>
<text transform="translate(1255.67,794.56) scale(1.030,0.950)" font-size="48.5" font-family="Liberation Sans, sans-serif" font-weight="bold" fill="#000">*</text>
<rect x="976.7" y="1212.2" width="22.4" height="4.9" fill="#231815"/>
<rect x="985.4" y="1203.5" width="4.9" height="22.4" fill="#231815"/>
<path d="M1001.4,1230.2 L1007.0,1230.2 L1013.3,1197.7 L1007.7,1197.7 Z" fill="#231815"/>
<rect x="1015.8" y="1212.2" width="22.4" height="4.9" fill="#231815"/>
<rect x="1024.5" y="1203.5" width="4.9" height="22.4" fill="#231815"/>
<rect x="1067.8" y="1212.2" width="22.4" height="4.9" fill="#231815"/>
<rect x="1076.5" y="1203.5" width="4.9" height="22.4" fill="#231815"/>
<path d="M1092.5,1230.2 L1098.1,1230.2 L1104.4,1197.7 L1098.8,1197.7 Z" fill="#231815"/>
<rect x="1107.1" y="1217.1" width="12.4" height="5" fill="#231815"/>
<rect x="1188.2" y="1212.2" width="22.4" height="4.9" fill="#231815"/>
<rect x="1197.0" y="1203.5" width="4.9" height="22.4" fill="#231815"/>
<path d="M1212.9,1230.2 L1218.5,1230.2 L1224.8,1197.7 L1219.2,1197.7 Z" fill="#231815"/>
<rect x="1227.3" y="1212.2" width="22.4" height="4.9" fill="#231815"/>
<rect x="1236.0" y="1203.5" width="4.9" height="22.4" fill="#231815"/>
<rect x="1272.1" y="1212.2" width="22.4" height="4.9" fill="#231815"/>
<rect x="1280.8" y="1203.5" width="4.9" height="22.4" fill="#231815"/>
<path d="M1296.8,1230.2 L1302.4,1230.2 L1308.7,1197.7 L1303.1,1197.7 Z" fill="#231815"/>
<rect x="1311.4" y="1217.1" width="12.4" height="5" fill="#231815"/>
<line x1="968.3" y1="1245.6" x2="1132.5" y2="1245.6" stroke="#000" stroke-width="2.2"/>
<line x1="1179.7" y1="1245.6" x2="1334.9" y2="1245.6" stroke="#000" stroke-width="2.2"/>
<text x="1012.1" y="1287.5" font-size="39.5" fill="#000" text-anchor="start" font-family="Liberation Sans, sans-serif" font-weight="bold" textLength="67.7" lengthAdjust="spacingAndGlyphs">2 M</text>
<text x="1203.1" y="1287.5" font-size="39.5" fill="#000" text-anchor="start" font-family="Liberation Sans, sans-serif" font-weight="bold" textLength="90.3" lengthAdjust="spacingAndGlyphs">12 M</text>
</svg>
</body></html>
